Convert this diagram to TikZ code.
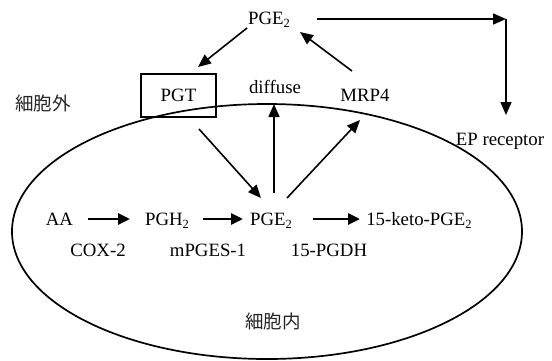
\documentclass[tikz,border=0pt]{standalone}
\usepackage{fontspec}
\setmainfont{Liberation Serif}
\newfontfamily\cjk{Noto Sans CJK JP}
\usetikzlibrary{arrows.meta}
\newcommand\subtwo{\raisebox{-0.45ex}{\fontsize{12.5}{12.5}\selectfont 2}}

\begin{document}
\begin{tikzpicture}[x=1pt,y=-1pt,
  lbl/.style={font=\fontsize{18.8}{22}\selectfont, inner sep=0pt, anchor=base},
  cj/.style={font=\cjk\fontsize{18.5}{22}\selectfont, inner sep=0pt, text=black!85},
  thinarrow/.style={line width=1.6pt, -{Triangle[length=13pt,width=11pt]}},
  patharrow/.style={line width=2.8pt, -{Triangle[length=12pt,width=11pt]}},
]
\useasboundingbox (0,0) rectangle (552,360);

% cell membrane
\draw[line width=1.7pt] (267,231.5) ellipse [x radius=255pt, y radius=127.5pt];

% extracellular labels
\node[lbl] (pgeTop) at (269,24) {PGE\subtwo};
\node[draw, line width=1.6pt, minimum width=75pt, minimum height=43pt,
      inner sep=0pt, font=\fontsize{18.8}{22}\selectfont] (pgt) at (178.5,95.5) {PGT};
\node[lbl] (diffuse) at (275,93) {diffuse};
\node[lbl] (mrp) at (365,101) {MRP4};
\node[lbl] (ep) at (500,145) {EP receptor};
\node[cj] (outside) at (43,103) {細胞外};

% intracellular pathway
\node[lbl] (aa) at (59.5,225) {AA};
\node[lbl] (pgh) at (167,225) {PGH\subtwo};
\node[lbl] (pge) at (271,225) {PGE\subtwo};
\node[lbl] (keto) at (419,225) {15-keto-PGE\subtwo};
\node[lbl] (cox) at (98,256) {COX-2};
\node[lbl] (mpges) at (208,256) {mPGES-1};
\node[lbl] (pgdh) at (329,256) {15-PGDH};
\node[cj] (inside) at (273,321) {細胞内};

% arrow end points
\coordinate (corner) at (506,19);
\coordinate (topL) at (247,28);
\coordinate (pgtIn) at (198,67);
\coordinate (mrpOut) at (352,71);
\coordinate (topR) at (300,32);
\coordinate (topE) at (317,19);
\coordinate (epIn) at (506,115);
\coordinate (pgtOut) at (199,129);
\coordinate (pgeInL) at (261,198);
\coordinate (pgeUp) at (274,193);
\coordinate (diffIn) at (274,104);
\coordinate (pgeOutR) at (287,198);
\coordinate (mrpIn) at (360,120);
\coordinate (aaOut) at (88,219);
\coordinate (pghIn) at (130,219);
\coordinate (pghOut) at (203,219);
\coordinate (pgeIn) at (243,219);
\coordinate (pgeOut) at (313,219);
\coordinate (ketoIn) at (360,219);

% transport arrows
\draw[thinarrow] (topL) -- (pgtIn);
\draw[thinarrow] (mrpOut) -- (topR);
\draw[thinarrow] (topE) -- (corner);
\draw[thinarrow] (corner) -- (epIn);
\draw[thinarrow] (pgtOut) -- (pgeInL);
\draw[thinarrow] (pgeUp) -- (diffIn);
\draw[thinarrow] (pgeOutR) -- (mrpIn);

% enzymatic steps
\draw[patharrow] (aaOut) -- (pghIn);
\draw[patharrow] (pghOut) -- (pgeIn);
\draw[patharrow] (pgeOut) -- (ketoIn);
\end{tikzpicture}
\end{document}
